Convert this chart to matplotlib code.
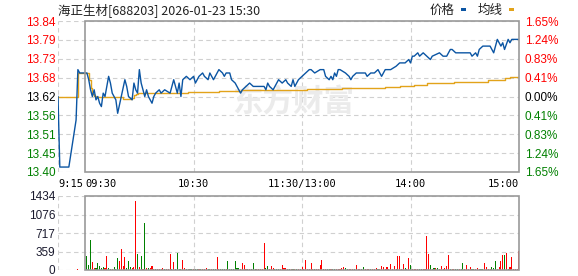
import matplotlib
matplotlib.use("Agg")
import matplotlib.pyplot as plt
from matplotlib.patches import Rectangle
from matplotlib.transforms import blended_transform_factory

plt.rcParams['font.family'] = ['Noto Sans CJK SC', 'DejaVu Sans']

# -- data (minutes counted from 9:15, 9:30 = 15, 11:30/13:00 = 135, 15:00 = 255)
prev_close = 13.62
title = '海正生材[688203] 2026-01-23 15:30'

price_min = [0, 1, 6, 10, 11, 12, 16, 17, 18, 19, 20, 21, 22, 23, 24, 25, 26, 28, 29, 30,
             32, 33, 35, 37, 38, 39, 41, 42, 43, 44, 45, 46, 47, 48, 49, 50, 51, 52, 53, 54,
             56, 57, 59, 62, 64, 65, 66, 67, 68, 69, 71, 73, 75, 76, 78, 80, 81, 83, 84, 86,
             87, 89, 91, 92, 93, 95, 96, 98, 100, 101, 102, 104, 106, 108, 110, 112, 114, 115, 116, 117,
             119, 121, 122, 124, 126, 127, 129, 130, 131, 133, 135, 137, 139, 140, 142, 145, 147, 148, 150, 151,
             152, 153, 154, 155, 156, 159, 161, 162, 163, 165, 168, 170, 171, 173, 175, 177, 179, 181, 184, 187,
             189, 192, 194, 195, 196, 197, 199, 200, 202, 204, 206, 207, 211, 213, 215, 217, 218, 220, 222, 225,
             228, 229, 231, 232, 233, 235, 237, 239, 241, 243, 245, 246, 247, 249, 250, 251, 252, 255]
price_val = [13.62, 13.41, 13.41, 13.55, 13.70, 13.69, 13.69, 13.67, 13.64, 13.62, 13.64, 13.61, 13.62, 13.60, 13.59, 13.63, 13.62, 13.68, 13.66, 13.63,
             13.61, 13.57, 13.62, 13.67, 13.65, 13.62, 13.61, 13.66, 13.64, 13.63, 13.70, 13.66, 13.64, 13.62, 13.64, 13.62, 13.61, 13.60, 13.62, 13.63,
             13.64, 13.63, 13.64, 13.63, 13.67, 13.65, 13.63, 13.66, 13.62, 13.67, 13.68, 13.67, 13.68, 13.66, 13.68, 13.69, 13.68, 13.67, 13.69, 13.67,
             13.68, 13.70, 13.69, 13.68, 13.69, 13.69, 13.67, 13.66, 13.64, 13.63, 13.64, 13.65, 13.66, 13.65, 13.65, 13.65, 13.65, 13.64, 13.66, 13.65,
             13.64, 13.66, 13.67, 13.66, 13.67, 13.66, 13.65, 13.67, 13.65, 13.67, 13.68, 13.69, 13.70, 13.70, 13.69, 13.70, 13.70, 13.68, 13.67, 13.68,
             13.67, 13.69, 13.68, 13.70, 13.70, 13.69, 13.68, 13.67, 13.68, 13.69, 13.69, 13.69, 13.68, 13.69, 13.69, 13.70, 13.68, 13.70, 13.70, 13.71,
             13.72, 13.72, 13.73, 13.72, 13.74, 13.74, 13.75, 13.74, 13.75, 13.74, 13.73, 13.74, 13.75, 13.74, 13.74, 13.76, 13.76, 13.75, 13.75, 13.75,
             13.75, 13.74, 13.75, 13.74, 13.76, 13.77, 13.77, 13.77, 13.75, 13.79, 13.77, 13.78, 13.76, 13.79, 13.78, 13.79, 13.79, 13.79]

avg_min = [0, 11, 16, 17, 18, 19, 20, 21, 36, 41, 42, 43, 44, 72, 89, 101, 138, 157, 181, 189,
           197, 204, 219, 238, 247, 250, 255]
avg_val = [13.620, 13.690, 13.690, 13.670, 13.645, 13.628, 13.622, 13.619, 13.614, 13.617, 13.624, 13.627, 13.630, 13.633, 13.636, 13.639, 13.642, 13.645, 13.648, 13.651,
           13.654, 13.659, 13.664, 13.669, 13.674, 13.678, 13.678]

pre_vol_min = [11]
pre_vol = [20]
pre_up = [1]

vol_min = list(range(16, 256))
vol = [280, 97, 584, 150, 32, 32, 136, 84, 45, 58, 32, 273, 32, 20, 20, 65, 20, 240, 175, 409,
       84, 260, 32, 175, 58, 32, 65, 1330, 311, 65, 273, 20, 915, 32, 32, 45, 84, 20, 20, 20,
       20, 20, 32, 20, 20, 20, 311, 20, 150, 20, 331, 20, 20, 195, 45, 20, 20, 20, 20, 20,
       20, 20, 20, 20, 20, 20, 32, 20, 20, 20, 20, 20, 253, 20, 20, 20, 20, 20, 175, 20,
       20, 20, 175, 45, 45, 20, 136, 97, 20, 20, 20, 20, 136, 20, 20, 20, 20, 20, 526, 32,
       78, 20, 78, 32, 20, 20, 20, 20, 97, 45, 32, 20, 20, 20, 20, 20, 20, 20, 20, 58,
       20, 195, 20, 20, 136, 20, 20, 20, 20, 97, 195, 20, 20, 20, 20, 20, 20, 20, 20, 20,
       20, 32, 58, 32, 20, 20, 20, 20, 20, 97, 20, 20, 20, 58, 20, 20, 20, 20, 20, 20,
       32, 20, 20, 84, 58, 20, 58, 20, 117, 20, 84, 20, 273, 273, 20, 117, 32, 20, 234, 97,
       20, 20, 20, 20, 20, 20, 20, 20, 662, 305, 97, 20, 32, 32, 32, 20, 78, 20, 32, 78,
       292, 20, 20, 20, 20, 20, 20, 20, 136, 20, 97, 20, 58, 20, 20, 20, 32, 20, 20, 20,
       136, 58, 20, 20, 58, 32, 175, 20, 58, 175, 292, 292, 331, 20, 58, 253, 20, 20, 20, 370]
vol_up = [0, 0, 0, 1, 1, 0, 0, 0, 0, 0, 1, 1, 0, 0, 1, 0, 0, 0, 1, 1,
          1, 1, 0, 0, 0, 1, 1, 1, 0, 1, 0, 1, 0, 1, 0, 1, 1, 1, 0, 1,
          1, 1, 1, 0, 1, 1, 1, 0, 1, 0, 0, 0, 0, 1, 1, 0, 1, 0, 0, 1,
          0, 0, 1, 0, 1, 1, 1, 0, 0, 1, 0, 0, 1, 1, 0, 0, 0, 1, 0, 0,
          0, 0, 0, 0, 0, 1, 1, 1, 1, 0, 1, 0, 0, 0, 1, 1, 1, 1, 1, 0,
          0, 1, 1, 1, 0, 0, 0, 1, 1, 1, 1, 1, 0, 1, 0, 1, 0, 1, 0, 1,
          1, 1, 1, 1, 1, 1, 0, 1, 1, 1, 1, 0, 1, 0, 0, 1, 0, 0, 1, 1,
          1, 1, 1, 0, 0, 1, 1, 1, 0, 1, 1, 1, 0, 0, 1, 1, 1, 0, 1, 1,
          1, 0, 1, 1, 1, 1, 1, 1, 1, 1, 1, 0, 1, 1, 1, 1, 0, 1, 1, 0,
          1, 1, 1, 1, 0, 0, 1, 1, 1, 1, 0, 1, 0, 1, 0, 1, 1, 1, 1, 1,
          1, 0, 1, 1, 0, 0, 1, 0, 0, 1, 1, 1, 1, 0, 0, 1, 1, 1, 0, 0,
          1, 1, 1, 1, 0, 0, 0, 1, 1, 1, 1, 0, 1, 0, 1, 1, 1, 1, 1, 1]

price_ticks = ['13.84', '13.79', '13.73', '13.68', '13.62', '13.56', '13.51', '13.45', '13.40']
pct_ticks = ['1.65%', '1.24%', '0.83%', '0.41%', '0.00%', '0.41%', '0.83%', '1.24%', '1.65%']
vol_ticks = ['1434', '1076', '717', '359', '0']
time_pos = [0, 15, 75, 135, 195, 255]
time_labels = ['9:15', '09:30', '10:30', '11:30/13:00', '14:00', '15:00']

# -- colours
blue = '#0b55a3'
gold = '#e2a31a'
red = '#ff0000'
green = '#008000'
grid = '#d0d0d0'
frame = '#999999'

W, H = 578, 276
fig = plt.figure(figsize=(W / 100, H / 100), dpi=100)
ax = fig.add_axes([58 / W, 1 - 172 / H, 461 / W, 151 / H])
vax = fig.add_axes([58 / W, 1 - 270 / H, 461 / W, 74 / H])

span = 0.0165
ylo, yhi = prev_close * (1 - span), prev_close * (1 + span)
yt = [yhi - i * (yhi - ylo) / 8 for i in range(9)]

for a in (ax, vax):
    a.set_xlim(0, 255)
    for s in a.spines.values():
        s.set_visible(False)
    a.tick_params(length=0)
    a.set_xticks([])

ax.set_ylim(ylo, yhi)
vmax = 1434
vax.set_ylim(0, vmax)
vt = [vmax - i * vmax / 4 for i in range(5)]

dash = (0, (4, 3))
for y in yt:
    ax.axhline(y, color=grid, lw=0.8, ls=dash, zorder=0)
for y in vt:
    vax.axhline(y, color=grid, lw=0.8, ls=dash, zorder=0)
for x in [0, 75, 135, 195]:
    ax.axvline(x, color=grid, lw=0.8, ls=dash, zorder=0)
    vax.axvline(x, color=grid, lw=0.8, ls=dash, zorder=0)

ax.add_patch(Rectangle((15, ylo), 240, yhi - ylo, fill=False, ec=frame, lw=1.2, zorder=5, clip_on=False))
vax.add_patch(Rectangle((15, 0), 240, vmax, fill=False, ec=frame, lw=1.2, zorder=5, clip_on=False))

# watermark
ax.text(130, 13.605, '东方财富', ha='center', va='center', fontsize=22, fontweight='bold',
        color='#ebebeb', zorder=0.5, family=['Noto Sans CJK SC', 'DejaVu Sans'])

ax.plot(avg_min, avg_val, color=gold, lw=1.0, zorder=3, drawstyle='steps-post')
ax.plot(price_min, price_val, color=blue, lw=1.0, zorder=4)

# y labels
ax.set_yticks(yt)
lab_col = [red] * 4 + ['black'] + [green] * 4
ax.set_yticklabels(price_ticks, fontsize=8.5, family='Liberation Sans')
for t, c in zip(ax.get_yticklabels(), lab_col):
    t.set_color(c)
ax.tick_params(axis='y', pad=2)

rx = ax.twinx()
rx.set_ylim(ylo, yhi)
for s in rx.spines.values():
    s.set_visible(False)
rx.set_yticks(yt)
rx.set_yticklabels(pct_ticks, fontsize=8.5, family='Liberation Sans')
for t, c in zip(rx.get_yticklabels(), lab_col):
    t.set_color(c)
rx.tick_params(length=0, pad=4)

vax.set_yticks(vt)
vax.set_yticklabels(vol_ticks, fontsize=8.5, family='Liberation Sans', color='#1a1a2e')
vax.tick_params(axis='y', pad=2)

# time labels
tr = blended_transform_factory(ax.transData, ax.transAxes)
aligns = ['left', 'left', 'center', 'center', 'center', 'right']
for p, l, ha in zip(time_pos, time_labels, aligns):
    ax.text(p, -0.045, l, transform=tr, ha=ha, va='top', fontsize=7.5,
            family='DejaVu Sans Mono', color='black')

# volume bars
cols = [red if u else green for u in vol_up]
vax.bar(vol_min, vol, width=0.6, color=cols, lw=0, zorder=3)
vax.bar(pre_vol_min, pre_vol, width=0.6, color=[red if u else green for u in pre_up], lw=0, zorder=3)

# title and legend
fig.text(58 / W, 1 - 10 / H, title, ha='left', va='center', fontsize=9, color='#222222')
fig.text(430 / W, 1 - 10 / H, '价格', ha='left', va='center', fontsize=9, color='#222222')
fig.text(478 / W, 1 - 10 / H, '均线', ha='left', va='center', fontsize=9, color='#222222')
fig.patches.append(Rectangle((461 / W, 1 - 11 / H), 5 / W, 3 / H, transform=fig.transFigure,
                             fc=blue, ec='none'))
fig.patches.append(Rectangle((509 / W, 1 - 11 / H), 5 / W, 3 / H, transform=fig.transFigure,
                             fc=gold, ec='none'))

fig.savefig('out.png', dpi=100)
